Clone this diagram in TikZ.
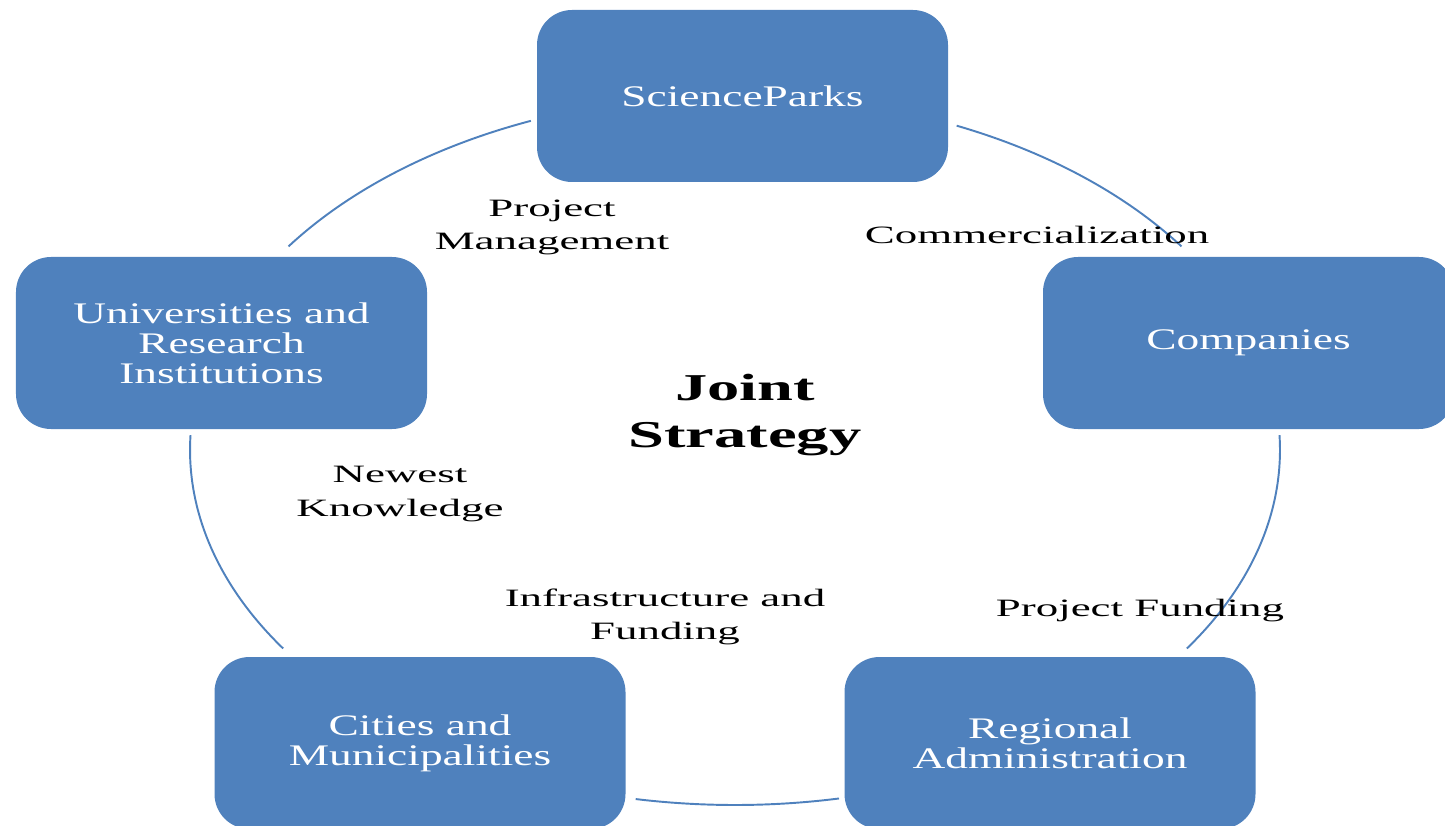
\documentclass[tikz,border=0pt]{standalone}
\usepackage{fontspec}
\setmainfont{Liberation Serif}
\newfontfamily\boxfont{Liberation Serif}[FakeStretch=1.52]
\newfontfamily\labfont{Liberation Serif}[FakeStretch=1.8]
\newfontfamily\midfont{Liberation Serif}[FakeStretch=1.7]
\definecolor{cycleblue}{HTML}{4F81BD}

\begin{document}
\begin{tikzpicture}[line width=1.1pt, main node/.style={rectangle,rounded corners=0.7cm,fill=cycleblue,minimum width=8.22cm,minimum height=3.44cm,inner sep=0pt,text=white,align=center,font=\boxfont\fontsize{17}{17}\selectfont}, link label/.style={align=center,inner sep=0pt,font=\labfont\fontsize{14.2}{18.8}\selectfont}, link/.style={draw=cycleblue}]%draw=white,
\useasboundingbox (0,0) rectangle (28.9,16.5);
\coordinate (c) at (14.7,7.5);
\begin{scope}
\node[main node] (sp) at (14.85,14.58) {ScienceParks};
\node[main node] (comp) at (24.97,9.64) {Companies};
\node[main node] (reg) at (21.0,1.64) {Regional\\Administration};
\node[main node] (city) at (8.4,1.64) {Cities and\\Municipalities};
\node[main node] (uni) at (4.43,9.64) {Universities and\\Research\\Institutions};
%\node[main node] (v) at (,) {};
\end{scope}
\begin{scope}
\path (c) ++(112:10.9 and 7.1) coordinate (pm1);
\path (c) ++(66:10.9 and 7.1) coordinate (co1);
\path (c) ++(2.4:10.9 and 7.1) coordinate (pf1);
\path (c) ++(-79:10.9 and 7.1) coordinate (if1);
\path (c) ++(214:10.9 and 7.1) coordinate (nk1);
\draw[link] (pm1) arc[start angle=112,end angle=145,x radius=10.9,y radius=7.1];
\draw[link] (co1) arc[start angle=66,end angle=35,x radius=10.9,y radius=7.1];
\draw[link] (pf1) arc[start angle=2.4,end angle=-34,x radius=10.9,y radius=7.1];
\draw[link] (if1) arc[start angle=-79,end angle=-100.5,x radius=10.9,y radius=7.1];
\draw[link] (nk1) arc[start angle=214,end angle=177.6,x radius=10.9,y radius=7.1];
\end{scope}
\begin{scope}[every node/.style={link label}]
\node (pm) at (11.04,11.96) {Project\\Management};
\node (co) at (20.74,11.8) {Commercialization};
\node (pf) at (22.8,4.28) {Project Funding};
\node (if) at (13.3,4.16) {Infrastructure and\\Funding};
\node (nk) at (8.0,6.62) {Newest\\Knowledge};
\end{scope}
\node[align=center,font=\midfont\bfseries\fontsize{21.6}{26.7}\selectfont] (js) at (14.9,8.2) {Joint\\Strategy};
\end{tikzpicture}
\end{document}
